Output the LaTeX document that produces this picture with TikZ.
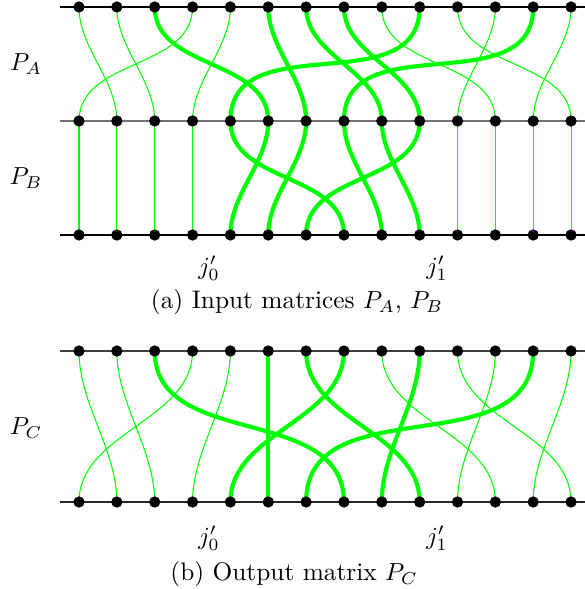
\documentclass[tikz,border=0pt]{standalone}
\usetikzlibrary{calc}
\pgfdeclarelayer{bg}
\pgfsetlayers{bg,main}
\newcommand\strand[3]{%
  \draw[#3] let \p1=(#1.center), \p2=(#2.center),
    \n1={veclen(\x2-\x1,\y2-\y1)}, \n2={abs(\y2-\y1)},
    \n3={2*\n1/(3*(1+\n2/\n1))} in
    (\p1) .. controls +(0pt,-\n3) and +(0pt,\n3) .. (\p2);}
\begin{document}
\begin{tikzpicture}[x=0.4065pt,y=-0.4065pt,
  dotn/.style={circle,fill=black,inner sep=0pt,minimum size=4.6pt},
  rowline/.style={line width=0.6pt},
  thinstrand/.style={green,line width=0.42pt},
  thickstrand/.style={green,line width=1.7pt},
  lbl/.style={inner sep=0pt,font=\fontsize{10.3pt}{12pt}\selectfont}]
\useasboundingbox (0,0) rectangle (585,589);
% dots
\foreach \r/\yy in {A/7,B/121,C/235,D/351,E/502}{
  \coordinate (\r L) at (60,\yy);
  \coordinate (\r R) at (585,\yy);
  \foreach \i in {0,...,13}{
    \node[dotn] (\r\i) at ({79+37.85*\i},\yy) {};
  }
}
\begin{pgfonlayer}{bg}
\draw[rowline] (AL) -- (AR);
\draw[rowline,black!55] (BL) -- (BR);
\draw[rowline] (CL) -- (CR);
\draw[rowline,black!75] (DL) -- (DR);
\draw[rowline,black!85] (EL) -- (ER);
% P_A
\foreach \s/\t in {0/1,1/2,3/0,4/3,8/11,10/13,11/10,13/12}{\strand{A\s}{B\t}{thinstrand}}
\foreach \s/\t in {2/5,5/6,6/8,7/9,9/4,12/7}{\strand{A\s}{B\t}{thickstrand}}
% P_B
\foreach \s/\t in {0/0,1/1,2/2,3/3,10/10,11/11,12/12,13/13}{\strand{B\s}{C\t}{thinstrand}}
\foreach \s/\t in {4/7,5/4,6/5,7/8,8/9,9/6}{\strand{B\s}{C\t}{thickstrand}}
% P_C
\foreach \s/\t in {0/1,1/2,3/0,4/3,8/11,10/13,11/10,13/12}{\strand{D\s}{E\t}{thinstrand}}
\foreach \s/\t in {2/7,5/5,6/9,7/4,9/8,12/6}{\strand{D\s}{E\t}{thickstrand}}
\end{pgfonlayer}
% labels
\node[lbl] (pa) at (26,64) {$P_A$};
\node[lbl] (pb) at (26,178) {$P_B$};
\node[lbl] (pc) at (26,428) {$P_C$};
\node[lbl] (j0a) at (209,268) {$j'_0$};
\node[lbl] (j1a) at (437,268) {$j'_1$};
\node[lbl] (j0b) at (209,538) {$j'_0$};
\node[lbl] (j1b) at (437,538) {$j'_1$};
\node[lbl] (capa) at (297,302) {(a) Input matrices $P_A$, $P_B$};
\node[lbl] (capb) at (294,574) {(b) Output matrix $P_C$};
\end{tikzpicture}
\end{document}
